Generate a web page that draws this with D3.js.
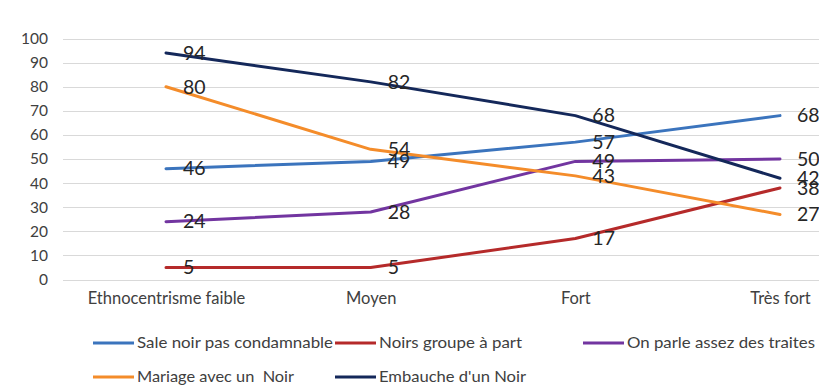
<!DOCTYPE html>
<html>
<head>
<meta charset="utf-8">
<script src="https://cdn.jsdelivr.net/npm/d3@7"></script>
<style>
  html, body { margin: 0; padding: 0; background: #fff; }
  svg { display: block; }
  text { font-family: Lato, "Open Sans", "Liberation Sans", sans-serif; }
</style>
</head>
<body>
<svg id="chart" width="819" height="386"></svg>
<script>
// Attitudes by level of ethnocentrism (percent)
const categories = ["Ethnocentrisme faible", "Moyen", "Fort", "Très fort"];
const yTicks = [0, 10, 20, 30, 40, 50, 60, 70, 80, 90, 100];

const saleNoir   = [46, 49, 57, 68];
const groupePart = [5, 5, 17, 38];
const traites    = [24, 28, 49, 50];
const mariage    = [80, 54, 43, 27];
const embauche   = [94, 82, 68, 42];

const series = [
  { name: "Sale noir pas condamnable",  values: saleNoir,   color: "#3b74bd" },
  { name: "Noirs groupe à part",        values: groupePart, color: "#b52a2a" },
  { name: "On parle assez des traites", values: traites,    color: "#7235a0" },
  { name: "Mariage avec un  Noir",      values: mariage,    color: "#f48c2a" },
  { name: "Embauche d'un Noir",         values: embauche,   color: "#14285a" }
];

const svg = d3.select("#chart");

const x = d3.scalePoint().domain(categories).range([166, 780]);
const y = d3.scaleLinear().domain([0, 100]).range([279.5, 38.5]);

// horizontal gridlines
svg.append("g")
  .selectAll("line")
  .data(yTicks)
  .join("line")
  .attr("x1", 63).attr("x2", 819)
  .attr("y1", d => Math.round(y(d)) + 0.5)
  .attr("y2", d => Math.round(y(d)) + 0.5)
  .attr("stroke", "#d9d9d9")
  .attr("stroke-width", 1);

// y axis labels
const yAxis = d3.axisLeft(y).tickValues(yTicks).tickSize(0).tickPadding(0);
svg.append("g")
  .attr("transform", "translate(48,0)")
  .call(yAxis)
  .call(g => g.select(".domain").remove())
  .call(g => g.selectAll("text")
    .attr("fill", "#404040")
    .style("font-size", "15.5px")
    .style("font-family", "Lato, 'Open Sans', sans-serif"));

// category labels
const xAxis = d3.axisBottom(x).tickSize(0).tickPadding(0);
svg.append("g")
  .attr("transform", "translate(0,292)")
  .call(xAxis)
  .call(g => g.select(".domain").remove())
  .call(g => g.selectAll("text")
    .attr("fill", "#404040")
    .style("font-size", "16.5px")
    .style("font-family", "Lato, 'Open Sans', sans-serif"));

// lines
const line = d3.line()
  .x((d, i) => x(categories[i]))
  .y(d => y(d));

svg.append("g")
  .selectAll("path")
  .data(series)
  .join("path")
  .attr("d", s => line(s.values))
  .attr("fill", "none")
  .attr("stroke", s => s.color)
  .attr("stroke-width", 3)
  .attr("stroke-linecap", "round")
  .attr("stroke-linejoin", "round");

// value labels right of each point
const labelData = series.flatMap(s => s.values.map((v, i) => ({ v, i })));
svg.append("g")
  .selectAll("text")
  .data(labelData)
  .join("text")
  .attr("x", d => x(categories[d.i]) + 17)
  .attr("y", d => y(d.v))
  .attr("dy", "0.35em")
  .attr("fill", "#262626")
  .style("font-size", "19.5px")
  .text(d => d.v);

// legend
const legendPos = [
  { x: 93,  y: 343, w: 196 },
  { x: 335, y: 343, w: 143 },
  { x: 583, y: 343, w: 188 },
  { x: 93,  y: 377, w: 157 },
  { x: 335, y: 377, w: 147 }
];
const legend = svg.append("g")
  .selectAll("g")
  .data(series)
  .join("g")
  .attr("transform", (s, i) => `translate(${legendPos[i].x},${legendPos[i].y})`);
legend.append("line")
  .attr("x1", 0).attr("x2", 41)
  .attr("stroke", s => s.color)
  .attr("stroke-width", 3);
legend.append("text")
  .attr("x", 44)
  .attr("dy", "0.35em")
  .attr("fill", "#404040")
  .style("font-size", "15px")
  .style("white-space", "pre")
  .attr("textLength", (s, i) => legendPos[i].w)
  .attr("lengthAdjust", "spacingAndGlyphs")
  .text(s => s.name);
</script>
</body>
</html>
